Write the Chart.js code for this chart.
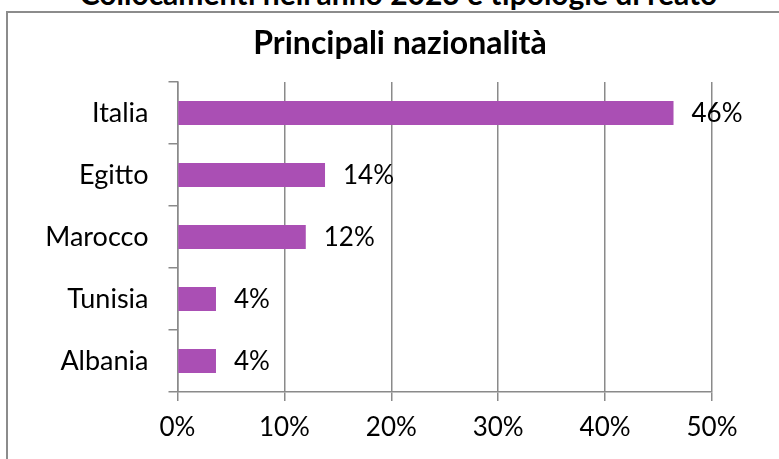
<!DOCTYPE html>
<html lang="it">
<head>
  <meta charset="UTF-8">
  <title>Principali nazionalità</title>
  <script src="https://cdn.jsdelivr.net/npm/chart.js@4.4.0/dist/chart.umd.min.js"></script>
  <style>
    body { margin: 0; width: 779px; height: 459px; overflow: hidden; position: relative; background: #fff; }
    #top-title {
      position: absolute; left: 0; width: 797px; top: -22px;
      font: bold 30px Lato, sans-serif; line-height: 30px;
      text-align: center; color: #000; white-space: nowrap;
    }
    #frame {
      position: absolute; left: 6px; top: 11px; width: 900px; height: 600px;
      border-top: 2px solid #8c8c8c; border-left: 2px solid #8c8c8c;
    }
    #chart { position: absolute; left: 0; top: 0; }
  </style>
</head>
<body>
  <div id="top-title">Collocamenti nell'anno 2023 e tipologie di reato</div>
  <div id="frame"></div>
  <canvas id="chart" width="779" height="459"></canvas>
  <script>
    // values (percent)
    const countries = ['Italia', 'Egitto', 'Marocco', 'Tunisia', 'Albania'];
    const shares = [46.4, 13.8, 12.0, 3.6, 3.6];
    const xTicks = [0, 10, 20, 30, 40, 50];

    const barColor = '#aa4fb4';
    const lineColor = '#8a8a8a';
    const font = 'Lato';

    // value labels to the right of each bar
    const valueLabels = {
      id: 'valueLabels',
      afterLayout(chart) {
        // centre the title on the frame rather than on the padded box
        chart.titleBlock.left = 0;
        chart.titleBlock.right = 800;
      },
      afterDatasetsDraw(chart) {
        const ctx = chart.ctx;
        const meta = chart.getDatasetMeta(0);
        ctx.save();
        ctx.font = '26px ' + font;
        ctx.fillStyle = '#000';
        ctx.textAlign = 'left';
        ctx.textBaseline = 'middle';
        meta.data.forEach((bar, i) => {
          ctx.fillText(Math.round(shares[i]) + '%', bar.x + 18, bar.y + 1);
        });
        ctx.restore();
      }
    };

    new Chart(document.getElementById('chart'), {
      type: 'bar',
      data: {
        labels: countries,
        datasets: [{
          data: shares,
          backgroundColor: barColor,
          borderWidth: 0,
          categoryPercentage: 1,
          barPercentage: 0.39
        }]
      },
      options: {
        indexAxis: 'y',
        responsive: false,
        animation: false,
        layout: { padding: { left: 0, right: 67, top: 0, bottom: 0 } },
        plugins: {
          legend: { display: false },
          tooltip: { enabled: false },
          title: {
            display: true,
            text: 'Principali nazionalità',
            color: '#000',
            font: { family: font, size: 32, weight: 'bold', lineHeight: 1.2 },
            padding: { top: 24.8, bottom: 18.8 }
          }
        },
        scales: {
          x: {
            min: 0,
            max: 50,
            afterBuildTicks(scale) { scale.ticks = xTicks.map(v => ({ value: v })); },
            afterFit(scale) { scale.height = 67; },
            ticks: {
              color: '#000',
              font: { family: font, size: 26 },
              padding: 11,
              callback: v => v + '%'
            },
            grid: { color: lineColor, lineWidth: 1.5, tickLength: 9 },
            border: { color: lineColor, width: 1.5 }
          },
          y: {
            afterFit(scale) { scale.width = 177.5; },
            ticks: {
              color: '#000',
              font: { family: font, size: 27 },
              padding: 20
            },
            grid: { drawOnChartArea: false, color: lineColor, lineWidth: 1.5, tickLength: 9 },
            border: { color: lineColor, width: 1.5 }
          }
        }
      },
      plugins: [valueLabels]
    });
  </script>
</body>
</html>
